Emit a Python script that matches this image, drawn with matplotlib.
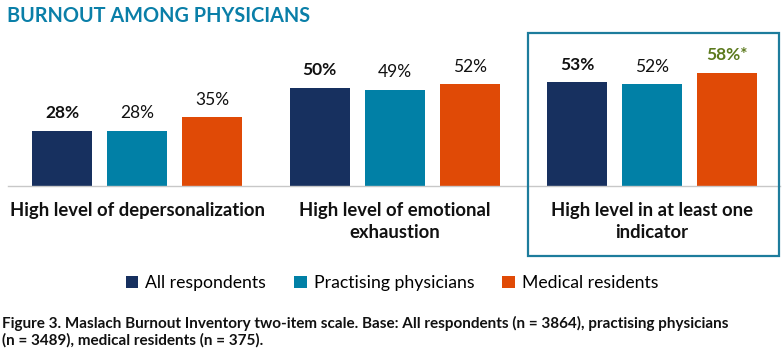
import matplotlib
matplotlib.use("Agg")
import matplotlib.pyplot as plt
import numpy as np
from matplotlib.patches import Rectangle

plt.rcParams['font.family'] = ['Lato', 'DejaVu Sans']

categories = ["High level of depersonalization",
              "High level of emotional\nexhaustion",
              "High level in at least one\nindicator"]
series = ["All respondents", "Practising physicians", "Medical residents"]
all_resp = [28, 50, 53]
practising = [28, 49, 52]
residents = [35, 52, 58]
labels_res = ["35%", "52%", "58%*"]
colors = ["#17305f", "#0180a6", "#e04a06"]

fig = plt.figure(figsize=(7.83, 3.56), dpi=100)
ax = fig.add_axes([8/783, 1-185.7/356, 772/783, (185.7-29.7)/356])

x = np.arange(len(categories))
off = 75/257.5
w = 60/257.5
vals = [all_resp, practising, residents]
for j, (v, c) in enumerate(zip(vals, colors)):
    ax.bar(x + (j-1)*off, v, w, color=c, label=series[j], zorder=2)

for i in range(len(categories)):
    ax.text(x[i]-off, all_resp[i]+5, f"{all_resp[i]}%", ha='center', va='bottom',
            fontsize=12.5, fontweight='bold', color='#111111')
    ax.text(x[i], practising[i]+5, f"{practising[i]}%", ha='center', va='bottom',
            fontsize=12.5, color='#111111')
    if i == 2:
        ax.text(x[i]+off, residents[i]+5, labels_res[i], ha='center', va='bottom',
                fontsize=12.5, fontweight='bold', color='#5c7a1e')
    else:
        ax.text(x[i]+off, residents[i]+5, labels_res[i], ha='center', va='bottom',
                fontsize=12.5, color='#111111')

ax.set_xlim(-0.501, 2.497)
ax.set_ylim(0, 80)
for s in ['top', 'right', 'left']:
    ax.spines[s].set_visible(False)
ax.spines['bottom'].set_color('#c8c8c8')
ax.spines['bottom'].set_linewidth(1)
ax.set_yticks([])
ax.set_xticks([])

centers_px = [137, 395, 652]
for i, cat in enumerate(categories):
    fig.text(centers_px[i]/783, 1-202/356, cat, ha='center', va='top',
             fontsize=13.3, fontweight='bold', color='#111111', linespacing=1.35)

# box around third group
fig.patches.append(Rectangle((528/783, 1-256/356), (779-528)/783, (256-33)/356,
                             transform=fig.transFigure, fill=False,
                             edgecolor='#1d7c9c', linewidth=1.6))

fig.text(7/783, 1-16/356, "BURNOUT AMONG PHYSICIANS", ha='left', va='center',
         fontsize=14.3, fontweight='bold', color='#0a7fa8')

leg = fig.legend(loc='center', bbox_to_anchor=(392/783, 1-283/356), ncol=3,
                 frameon=False, fontsize=12.7, handlelength=0.7, handleheight=0.7,
                 handletextpad=0.4, columnspacing=1.6)

fig.text(2/783, 1-332/356,
         "Figure 3. Maslach Burnout Inventory two-item scale. Base: All respondents (n = 3864), practising physicians\n(n = 3489), medical residents (n = 375).",
         ha='left', va='center', fontsize=11, fontweight='bold', color='#111111',
         linespacing=1.2)

fig.savefig("out.png", dpi=100)
